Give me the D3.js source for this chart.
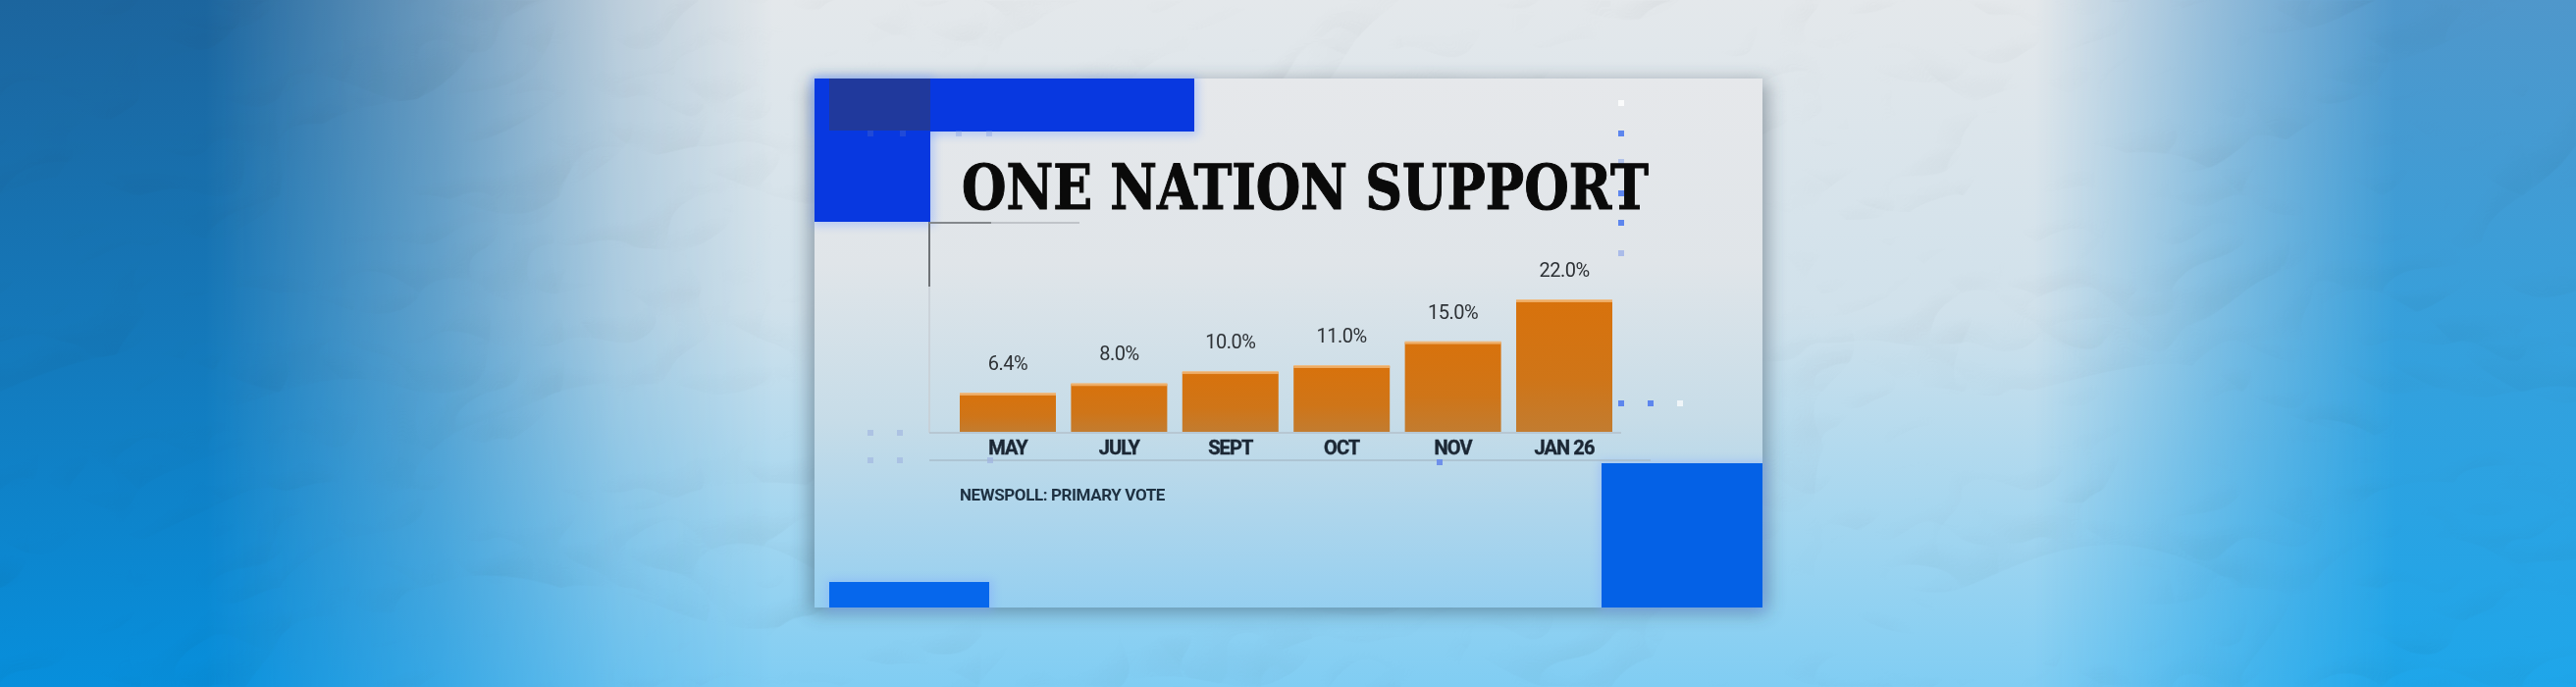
<!DOCTYPE html>
<html>
<head>
<meta charset="utf-8">
<script src="https://cdn.jsdelivr.net/npm/d3@7"></script>
<style>
  html, body { margin: 0; padding: 0; background: #cfd8de; }
  svg { display: block; }
</style>
</head>
<body>
<svg id="chart" width="2625" height="700"></svg>
<script>
// ---- data ----
const categories = ["MAY", "JULY", "SEPT", "OCT", "NOV", "JAN 26"];
const values = [6.4, 8.0, 10.0, 11.0, 15.0, 22.0];
const valueLabels = ["6.4%", "8.0%", "10.0%", "11.0%", "15.0%", "22.0%"];
const titleText = "ONE NATION SUPPORT";
const sourceText = "NEWSPOLL: PRIMARY VOTE";

const W = 2625, H = 700;
const svg = d3.select("#chart");
const defs = svg.append("defs");

function linGrad(id, x1, y1, x2, y2, stops, units) {
  const g = defs.append("linearGradient").attr("id", id)
    .attr("x1", x1).attr("y1", y1).attr("x2", x2).attr("y2", y2);
  if (units) g.attr("gradientUnits", units);
  stops.forEach(s => g.append("stop").attr("offset", s[0]).attr("stop-color", s[1]).attr("stop-opacity", s[2] === undefined ? 1 : s[2]));
  return g;
}
linGrad("bgCenter", 0, 0, 0, 1, [[0, "#e4e8eb"], [0.45, "#d0e1eb"], [1, "#80cdf3"]]);
linGrad("bgLeft", 0, 0, 0, 1, [[0, "#1c659e"], [0.5, "#1479bb"], [1, "#078fdc"]]);
linGrad("bgRight", 0, 0, 0, 1, [[0, "#4f97cb"], [0.5, "#35a0dc"], [1, "#1ea6ea"]]);
linGrad("maskLeftG", 0, 0, W, 0, [[0, "#fff"], [0.08, "#fff"], [0.17, "#999"], [0.24, "#333"], [0.3, "#000"]], "userSpaceOnUse");
linGrad("maskRightG", 0, 0, W, 0, [[0.79, "#000"], [0.86, "#888"], [0.93, "#fff"], [1, "#fff"]], "userSpaceOnUse");
linGrad("cardG", 0, 0, 0, 1, [[0, "#e6e8eb"], [0.35, "#e0e5e9"], [0.65, "#c6dce8"], [1, "#95cff0"]]);
linGrad("barG", 0, 0, 0, 1, [[0, "#d8720c"], [0.6, "#cf7518"], [1, "#c27c30"]]);

const mL = defs.append("mask").attr("id", "maskLeft");
mL.append("rect").attr("width", W).attr("height", H).attr("fill", "url(#maskLeftG)");
const mR = defs.append("mask").attr("id", "maskRight");
mR.append("rect").attr("width", W).attr("height", H).attr("fill", "url(#maskRightG)");

const shadow = defs.append("filter").attr("id", "shadow").attr("x", "-10%").attr("y", "-20%").attr("width", "120%").attr("height", "140%");
shadow.append("feGaussianBlur").attr("stdDeviation", 10);
const glow = defs.append("filter").attr("id", "glow").attr("x", "-20%").attr("y", "-50%").attr("width", "140%").attr("height", "200%");
glow.append("feGaussianBlur").attr("stdDeviation", 5);

const paper = defs.append("filter").attr("id", "paper").attr("x", 0).attr("y", 0).attr("width", W).attr("height", H)
  .attr("filterUnits", "userSpaceOnUse");
paper.append("feTurbulence").attr("type", "turbulence").attr("baseFrequency", "0.0035 0.005").attr("numOctaves", 3).attr("seed", 5).attr("result", "noise");
paper.append("feDiffuseLighting").attr("in", "noise").attr("surfaceScale", 14).attr("diffuseConstant", 1.3)
  .attr("lighting-color", "#ffffff").attr("result", "light")
  .append("feDistantLight").attr("azimuth", 235).attr("elevation", 52);

// ---- background ----
svg.append("rect").attr("width", W).attr("height", H).attr("fill", "url(#bgCenter)");
svg.append("rect").attr("width", W).attr("height", H).attr("fill", "url(#bgLeft)").attr("mask", "url(#maskLeft)");
svg.append("rect").attr("width", W).attr("height", H).attr("fill", "url(#bgRight)").attr("mask", "url(#maskRight)");
svg.append("rect").attr("width", W).attr("height", H).attr("fill", "#ffffff").attr("filter", "url(#paper)")
  .style("mix-blend-mode", "multiply").attr("opacity", 0.22);

// ---- card ----
const card = { x: 830, y: 80, w: 966, h: 539 };
svg.append("rect").attr("x", card.x - 4).attr("y", card.y + 4).attr("width", card.w + 8).attr("height", card.h)
  .attr("fill", "#2a3a48").attr("opacity", 0.45).attr("filter", "url(#shadow)");
svg.append("rect").attr("x", card.x).attr("y", card.y).attr("width", card.w).attr("height", card.h)
  .attr("fill", "url(#cardG)");

// decorative blue blocks
const blocks = [
  { x: 830, y: 80, w: 387, h: 54, c: "#0838e0" },
  { x: 830, y: 80, w: 118, h: 146, c: "#0838e0" },
  { x: 845, y: 80, w: 103, h: 53, c: "#20399c" },
  { x: 1632, y: 472, w: 164, h: 147, c: "#0461e6" },
  { x: 845, y: 593, w: 163, h: 26, c: "#0667ec" }
];
svg.append("g").selectAll("rect").data(blocks.slice(0, 2).concat(blocks.slice(3))).join("rect")
  .attr("x", d => d.x - 2).attr("y", d => d.y - 2).attr("width", d => d.w + 6).attr("height", d => d.h + 6)
  .attr("fill", "#7fa6ff").attr("opacity", 0.45).attr("filter", "url(#glow)");
svg.append("g").selectAll("rect").data(blocks).join("rect")
  .attr("x", d => d.x).attr("y", d => d.y).attr("width", d => d.w).attr("height", d => d.h)
  .attr("fill", d => d.c);

// guide lines
const deco = svg.append("g");
deco.append("line").attr("x1", 947).attr("x2", 947).attr("y1", 226).attr("y2", 441).attr("stroke", "#c7ced4").attr("stroke-width", 1.5);
deco.append("line").attr("x1", 947).attr("x2", 947).attr("y1", 226).attr("y2", 292).attr("stroke", "#6e7276").attr("stroke-width", 2);
deco.append("line").attr("x1", 947).attr("x2", 1100).attr("y1", 227).attr("y2", 227).attr("stroke", "#b4b9be").attr("stroke-width", 1.5);
deco.append("line").attr("x1", 947).attr("x2", 1010).attr("y1", 227).attr("y2", 227).attr("stroke", "#84888c").attr("stroke-width", 2);
deco.append("line").attr("x1", 947).attr("x2", 1652).attr("y1", 441).attr("y2", 441).attr("stroke", "#b3c1cb").attr("stroke-width", 1.5);
deco.append("line").attr("x1", 947).attr("x2", 1682).attr("y1", 469).attr("y2", 469).attr("stroke", "#a9bccb").attr("stroke-width", 1.5);

const dots = [
  [1652, 105, "#ffffff", 0.8], [1652, 136, "#5d86ee", 1], [1652, 165, "#9db2e8", 0.7], [1652, 197, "#5d86ee", 1],
  [1652, 227, "#5d86ee", 1], [1652, 258, "#9db2e8", 0.8], [1652, 411, "#5d86ee", 1], [1682, 411, "#5d86ee", 1],
  [1712, 411, "#ffffff", 0.7], [887, 441, "#9fb3e0", 0.6], [917, 441, "#9fb3e0", 0.6], [887, 469, "#9fb3e0", 0.6],
  [917, 469, "#9fb3e0", 0.6], [1009, 469, "#9fb3e0", 0.7], [1467, 471, "#6f90ea", 1],
  [887, 136, "#5a74c8", 0.3], [920, 136, "#5a74c8", 0.3], [977, 136, "#6f8de0", 0.3], [1008, 136, "#6f8de0", 0.3]
];
deco.selectAll("rect.dot").data(dots).join("rect").attr("class", "dot")
  .attr("x", d => d[0] - 3).attr("y", d => d[1] - 3).attr("width", 6).attr("height", 6)
  .attr("fill", d => d[2]).attr("opacity", d => d[3]);

// ---- title ----
svg.append("text").attr("x", 980).attr("y", 213)
  .attr("font-family", "'DejaVu Serif Condensed', 'DejaVu Serif', serif").attr("font-weight", "bold")
  .attr("font-size", 63).attr("fill", "#0a0a0a").attr("stroke", "#0a0a0a").attr("stroke-width", 1)
  .attr("textLength", 700).attr("lengthAdjust", "spacingAndGlyphs")
  .text(titleText);

// ---- chart ----
const x = d3.scaleBand().domain(categories).range([978, 1643]).paddingInner(0.136).paddingOuter(0);
const y = d3.scaleLinear().domain([0, 22]).range([440, 306]);
const data = categories.map((c, i) => ({ c, v: values[i], label: valueLabels[i] }));

const bars = svg.append("g");
bars.selectAll("rect.bar").data(data).join("rect").attr("class", "bar")
  .attr("x", d => x(d.c)).attr("y", d => y(d.v)).attr("width", x.bandwidth()).attr("height", d => y(0) - y(d.v))
  .attr("fill", "url(#barG)");
bars.selectAll("rect.edge").data(data).join("rect").attr("class", "edge")
  .attr("x", d => x(d.c)).attr("y", d => y(d.v) - 1).attr("width", x.bandwidth()).attr("height", 3)
  .attr("fill", "#f2b674").attr("opacity", 0.85);

bars.selectAll("text.val").data(data).join("text").attr("class", "val")
  .attr("x", d => x(d.c) + x.bandwidth() / 2).attr("y", d => y(d.v) - 24)
  .attr("text-anchor", "middle").attr("font-family", "Roboto, sans-serif").attr("font-size", 20)
  .attr("fill", "#2e3236").attr("letter-spacing", -0.5)
  .text(d => d.label);

const xAxis = svg.append("g").attr("transform", `translate(0,${y(0)})`)
  .call(d3.axisBottom(x).tickSize(0).tickPadding(8.5));
xAxis.select(".domain").remove();
xAxis.selectAll("text").attr("font-family", "Roboto, sans-serif").attr("font-weight", "bold")
  .attr("font-size", 20).attr("fill", "#1b2734").attr("letter-spacing", -0.9)
  .attr("stroke", "#1b2734").attr("stroke-width", 0.4);

// source
svg.append("text").attr("x", 978).attr("y", 510)
  .attr("font-family", "Roboto, sans-serif").attr("font-weight", "bold").attr("font-size", 17)
  .attr("fill", "#1e3142").attr("letter-spacing", -0.4)
  .text(sourceText);
</script>
</body>
</html>
